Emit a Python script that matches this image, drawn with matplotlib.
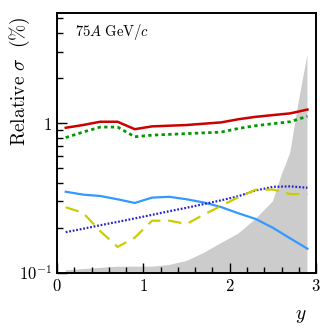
import matplotlib
matplotlib.use('Agg')
import matplotlib.pyplot as plt
import numpy as np

plt.rcParams['mathtext.fontset'] = 'cm'
plt.rcParams['font.family'] = 'serif'

# rapidity bins
y_bins = [0.1, 0.3, 0.5, 0.7, 0.9, 1.1, 1.3, 1.5, 1.7, 1.9, 2.1, 2.3, 2.5, 2.7, 2.9]

red_solid = [0.93, 0.97, 1.02, 1.02, 0.91, 0.95, 0.96, 0.97, 0.99, 1.01, 1.06, 1.10, 1.13, 1.16, 1.23]
green_dot = [0.80, 0.87, 0.94, 0.94, 0.81, 0.83, 0.84, 0.85, 0.86, 0.87, 0.92, 0.96, 0.99, 1.02, 1.11]
blue_solid = [0.348, 0.333, 0.326, 0.31, 0.293, 0.318, 0.322, 0.31, 0.295, 0.275, 0.25, 0.229, 0.20, 0.17, 0.145]
navy_dot = [0.187, 0.197, 0.208, 0.219, 0.231, 0.244, 0.258, 0.272, 0.288, 0.305, 0.325, 0.355, 0.375, 0.378, 0.37]
yellow_dash = [0.274, 0.252, 0.19, 0.149, 0.172, 0.223, 0.223, 0.212, 0.245, 0.28, 0.32, 0.359, 0.36, 0.336, 0.336]

# grey band (statistical limit)
band_y = [0.1, 0.3, 0.5, 0.7, 0.9, 1.1, 1.3, 1.5, 1.7, 1.9, 2.1, 2.3, 2.5, 2.6, 2.7, 2.8, 2.9]
band_val = [0.104, 0.106, 0.108, 0.110, 0.110, 0.110, 0.113, 0.12, 0.136, 0.158, 0.183, 0.229, 0.30, 0.45, 0.63, 1.4, 2.85]

fig = plt.figure(figsize=(3.32, 3.32), dpi=100)
ax = fig.add_axes([0.172, 0.178, 0.78, 0.782])

ax.fill_between(band_y, 0.01, band_val, color='#cccccc', linewidth=0)
ax.plot(y_bins, red_solid, color='#cc0000', lw=1.8)
ax.plot(y_bins, green_dot, color='#009900', lw=2.0, ls=(0, (1.2, 1.2)))
ax.plot(y_bins, blue_solid, color='#3399ff', lw=1.6)
ax.plot(y_bins, navy_dot, color='#2222cc', lw=1.6, ls=(0, (0.8, 0.8)))
ax.plot(y_bins, yellow_dash, color='#cccc00', lw=1.6, ls=(0, (6, 3.5)))

ax.set_yscale('log')
ax.set_xlim(0, 3)
ax.set_ylim(0.1, 5.4)
ax.set_yticks([0.1, 1])
ax.set_yticklabels([r'$10^{-1}$', r'$1$'])
ax.yaxis.set_minor_formatter(matplotlib.ticker.NullFormatter())
ax.set_xticks([0, 1, 2, 3])
ax.set_xticklabels([r'$0$', r'$1$', r'$2$', r'$3$'])
ax.xaxis.set_minor_locator(matplotlib.ticker.MultipleLocator(0.2))

ax.tick_params(which='both', direction='in', top=False, right=False, labelsize=12, width=1.0)
ax.tick_params(which='major', length=7)
ax.tick_params(which='minor', length=4)
for s in ax.spines.values():
    s.set_linewidth(1.4)

ax.set_ylabel(r'$\mathrm{Relative}\ \sigma\ \ (\%)$', fontsize=14)
ax.yaxis.set_label_coords(-0.097, 0.738)
ax.set_xlabel(r'$y$', fontsize=14)
ax.xaxis.set_label_coords(0.94, -0.13)

ax.text(0.07, 0.965, r'$75A\ \mathrm{GeV}/c$', transform=ax.transAxes, fontsize=10.5,
        ha='left', va='top')

fig.savefig('out.png', dpi=100)
